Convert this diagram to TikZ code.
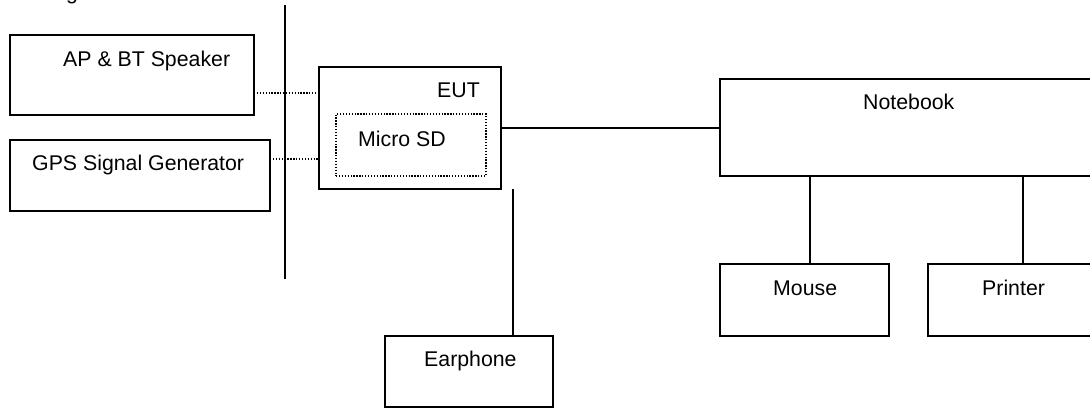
\documentclass[tikz,border=0pt]{standalone}
\usepackage{fontspec}
\setmainfont{Liberation Sans}
\begin{document}
\begin{tikzpicture}[x=1pt,y=-1pt,
  bx/.style={draw, line width=2pt, inner sep=0pt, outer sep=0pt, anchor=north west, rectangle},
  sdbox/.style={draw, line width=1.3pt, dash pattern=on 1.3pt off 1.6pt, inner sep=0pt, outer sep=0pt, anchor=north west, rectangle},
  lbl/.style={anchor=base west, inner sep=0pt, font=\fontsize{21.3}{25}\selectfont},
  solidline/.style={line width=2pt},
  dotline/.style={line width=1.3pt, dash pattern=on 1.3pt off 1.6pt}]
\useasboundingbox (0,0) rectangle (1090,408);
\clip (0,0) rectangle (1090,408);
% cut-off title fragment
\node[lbl] (frag) at (66,-1) {g};
% boxes
\node[bx, minimum width=244pt, minimum height=80pt] (ap) at (10,35) {};
\node[bx, minimum width=260pt, minimum height=71pt] (gps) at (10,140) {};
\node[bx, minimum width=182pt, minimum height=122pt] (eut) at (319,67) {};
\node[sdbox, minimum width=150pt, minimum height=62pt] (sd) at (336,114) {};
\node[bx, minimum width=400pt, minimum height=97pt] (nb) at (720,79) {};
\node[bx, minimum width=169pt, minimum height=72pt] (mouse) at (720,264) {};
\node[bx, minimum width=200pt, minimum height=72pt] (printer) at (928,264) {};
\node[bx, minimum width=168pt, minimum height=71pt] (ear) at (385,336) {};
% vertical divider
\coordinate (vtop) at (285,5);
\coordinate (vbot) at (285,279);
\draw[solidline] (vtop) -- (vbot);
% labels
\node[lbl] (lap) at (63,66.7) {AP \& BT Speaker};
\node[lbl] (lgps) at (32,170) {GPS Signal Generator};
\node[lbl] (leut) at (437,97.7) {EUT};
\node[lbl] (lsd) at (358,146.7) {Micro SD};
\node[lbl] (lnb) at (863,109) {Notebook};
\node[lbl] (lmouse) at (773,295) {Mouse};
\node[lbl] (lprinter) at (982,295) {Printer};
\node[lbl] (lear) at (424,366) {Earphone};
% connectors
\draw[dotline] (ap.east |- 0,93) -- (eut.west |- 0,93);
\draw[dotline] (gps.east |- 0,159) -- (eut.west |- 0,159);
\draw[solidline] (eut.east |- 0,127.5) -- (nb.west |- 0,127.5);
\draw[solidline] (eut.south -| 513,0) -- (ear.north -| 513,0);
\draw[solidline] (nb.south -| 810,0) -- (mouse.north -| 810,0);
\draw[solidline] (nb.south -| 1023,0) -- (printer.north -| 1023,0);
\end{tikzpicture}
\end{document}
